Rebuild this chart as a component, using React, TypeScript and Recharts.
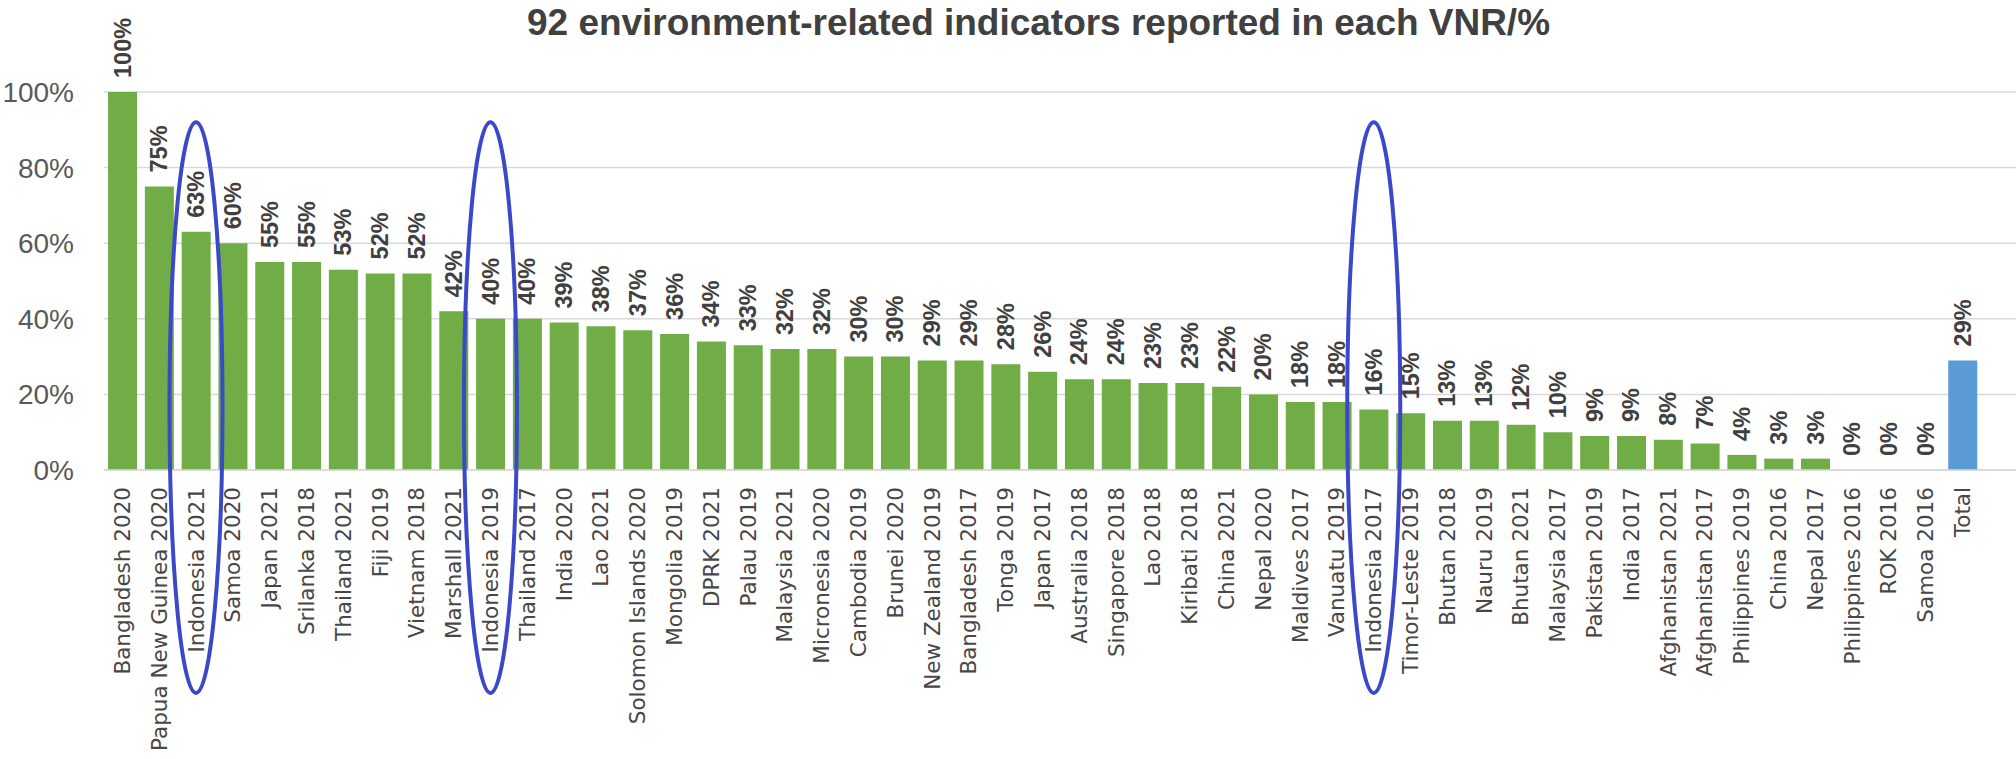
import { BarChart, Bar, XAxis, YAxis, CartesianGrid, Cell, LabelList, ReferenceArea } from "recharts";

const categories = [
    "Bangladesh 2020", "Papua New Guinea 2020", "Indonesia 2021", "Samoa 2020", "Japan 2021",
    "Srilanka 2018", "Thailand 2021", "Fiji 2019", "Vietnam 2018", "Marshall 2021",
    "Indonesia 2019", "Thailand 2017", "India 2020", "Lao 2021", "Solomon Islands 2020",
    "Mongolia 2019", "DPRK 2021", "Palau 2019", "Malaysia 2021", "Micronesia 2020",
    "Cambodia 2019", "Brunei 2020", "New Zealand 2019", "Bangladesh 2017", "Tonga 2019",
    "Japan 2017", "Australia 2018", "Singapore 2018", "Lao 2018", "Kiribati 2018",
    "China 2021", "Nepal 2020", "Maldives 2017", "Vanuatu 2019", "Indonesia 2017",
    "Timor-Leste 2019", "Bhutan 2018", "Nauru 2019", "Bhutan 2021", "Malaysia 2017",
    "Pakistan 2019", "India 2017", "Afghanistan 2021", "Afghanistan 2017", "Philippines 2019",
    "China 2016", "Nepal 2017", "Philippines 2016", "ROK 2016", "Samoa 2016",
    "Total",
];

const shares = [
    100, 75, 63, 60, 55,
    55, 53, 52, 52, 42,
    40, 40, 39, 38, 37,
    36, 34, 33, 32, 32,
    30, 30, 29, 29, 28,
    26, 24, 24, 23, 23,
    22, 20, 18, 18, 16,
    15, 13, 13, 12, 10,
    9, 9, 8, 7, 4,
    3, 3, 0, 0, 0,
    29,
];

const yTicks = [0, 20, 40, 60, 80, 100];

// the three Indonesia reports circled in the original
const circled = ["Indonesia 2021", "Indonesia 2019", "Indonesia 2017"];
const circleTop = 92;
const circleBottom = -59;

const TITLE = "92 environment-related indicators reported in each VNR/%";

const GREEN = "#70ad47";
const BLUE = "#5b9bd5";

const data = categories.map((name, i) => ({ name, value: shares[i] }));

function CategoryTick(props: any) {
    const { x, y, payload } = props;
    const ty = y + 9;
    return (
        <text
            x={x}
            y={ty}
            transform={`rotate(-90, ${x}, ${ty})`}
            textAnchor="end"
            dominantBaseline="central"
            fontFamily="DejaVu Sans"
            fontSize={21.5}
            fill="#474747"
        >
            {payload.value}
        </text>
    );
}

function ValueLabel(props: any) {
    const vb = props.viewBox ?? props;
    const cx = vb.x + vb.width / 2;
    const ty = vb.y - 14;
    return (
        <text
            x={cx}
            y={ty}
            transform={`rotate(-90, ${cx}, ${ty})`}
            textAnchor="start"
            dominantBaseline="central"
            fontFamily="Liberation Sans, Arial, sans-serif"
            fontWeight="bold"
            fontSize={23.5}
            fill="#404040"
        >
            {props.value}%
        </text>
    );
}

function Ellipse(props: any) {
    const { x, y, width, height } = props;
    return (
        <ellipse
            cx={x + width / 2}
            cy={y + height / 2}
            rx={26.5}
            ry={Math.abs(height) / 2}
            fill="none"
            stroke="#3b48c8"
            strokeWidth={4}
        />
    );
}

export default function App() {
    return (
        <div style={{ position: "absolute", left: 0, top: 0, width: 2016, height: 759, background: "#fff" }}>
            <BarChart
                width={2016}
                height={759}
                data={data}
                margin={{ top: 92, right: 0, bottom: 0, left: 0 }}
                barCategoryGap="11%"
            >
                <CartesianGrid vertical={false} stroke="#d9d9d9" strokeWidth={1.5} />
                <XAxis
                    dataKey="name"
                    interval={0}
                    height={289}
                    tickLine={false}
                    axisLine={{ stroke: "#d9d9d9", strokeWidth: 1.5 }}
                    tick={<CategoryTick />}
                    padding={{ left: 0, right: 35 }}
                />
                <YAxis
                    width={104}
                    domain={[0, 100]}
                    ticks={yTicks}
                    tickFormatter={(v) => `${v}%`}
                    axisLine={false}
                    tickLine={false}
                    tickMargin={24}
                    tick={{ fontFamily: "Liberation Sans, Arial, sans-serif", fontSize: 28, fill: "#595959" }}
                />
                <Bar dataKey="value" isAnimationActive={false} minPointSize={0.01}>
                    {data.map((d) => (
                        <Cell key={d.name} fill={d.name === "Total" ? BLUE : GREEN} />
                    ))}
                    <LabelList dataKey="value" content={<ValueLabel />} />
                </Bar>
                {circled.map((c) => (
                    <ReferenceArea
                        key={c}
                        x1={c}
                        x2={c}
                        y1={circleBottom}
                        y2={circleTop}
                        ifOverflow="visible"
                        shape={Ellipse}
                        zIndex={2500}
                    />
                ))}
            </BarChart>
            <svg width={2016} height={50} style={{ position: "absolute", left: 0, top: 0, pointerEvents: "none" }}>
                <text
                    x={527}
                    y={35}
                    textLength={1023}
                    lengthAdjust="spacingAndGlyphs"
                    fontFamily="Liberation Sans Narrow, Liberation Sans, Arial, sans-serif"
                    fontWeight="bold"
                    fontSize={37}
                    fill="#404040"
                >
                    {TITLE}
                </text>
            </svg>
        </div>
    );
}
